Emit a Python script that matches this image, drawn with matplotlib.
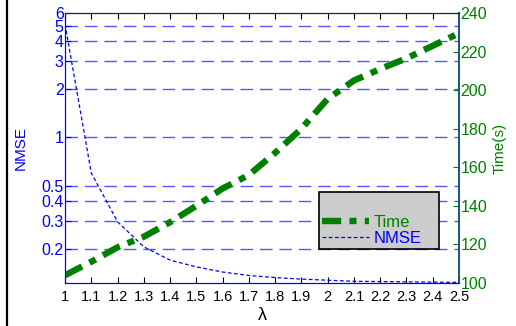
import numpy as np
import matplotlib
matplotlib.use('Agg')
import matplotlib.pyplot as plt
from matplotlib.lines import Line2D

plt.rcParams['font.family'] = ['Liberation Sans', 'DejaVu Sans']

# data
lam = [1.0, 1.1, 1.2, 1.3, 1.4, 1.5, 1.6, 1.7, 1.8, 1.9, 2.0, 2.1, 2.2, 2.3, 2.4, 2.5]
nmse = [5.1, 0.60, 0.297, 0.207, 0.171, 0.155, 0.144, 0.137, 0.133, 0.130,
        0.128, 0.126, 0.1255, 0.125, 0.1245, 0.124]
time_s = [104, 111, 118.5, 124, 131.5, 140, 149, 156, 167.5, 180,
          195.5, 205, 211, 216.5, 223, 229.5]

xticks = [1, 1.1, 1.2, 1.3, 1.4, 1.5, 1.6, 1.7, 1.8, 1.9, 2, 2.1, 2.2, 2.3, 2.4, 2.5]
xticklabels = ['1', '1.1', '1.2', '1.3', '1.4', '1.5', '1.6', '1.7', '1.8', '1.9',
               '2', '2.1', '2.2', '2.3', '2.4', '2.5']
nmse_ticks = [0.2, 0.3, 0.4, 0.5, 1, 2, 3, 4, 5, 6]
nmse_ticklabels = ['0.2', '0.3', '0.4', '0.5', '1', '2', '3', '4', '5', '6']
time_ticks = [100, 120, 140, 160, 180, 200, 220, 240]

fig = plt.figure(figsize=(5.16, 3.26), dpi=100)
ax = fig.add_axes([0.126, 0.132, 0.7635, 0.828])
ax2 = ax.twinx()

blue = '#0000ff'
green = '#008000'
spine_right = '#1f5a7a'

# NMSE (left, log)
ax.set_yscale('log')
ax.set_ylim(0.123, 6)
ax.set_xlim(1, 2.5)
for v in nmse_ticks[:-1]:
    ax.axhline(v, color='#3a3aff', lw=1.0, dashes=(9, 5), alpha=0.85, zorder=0)
l_nmse, = ax.plot(lam, nmse, color=blue, lw=0.9, dashes=(3, 2), label='NMSE')
ax.set_yticks(nmse_ticks)
ax.set_yticklabels(nmse_ticklabels)
ax.yaxis.set_minor_locator(matplotlib.ticker.NullLocator())
ax.tick_params(axis='y', colors=blue, direction='in', length=4, labelsize=11.5, pad=1)
ax.set_xticks(xticks)
ax.set_xticklabels(xticklabels)
ax.tick_params(axis='x', direction='in', length=4, labelsize=10.5, top=True, pad=5)
ax.set_ylabel('NMSE', color=blue, fontsize=11, labelpad=10)
ax.set_xlabel('λ', fontsize=13, labelpad=2)

# Time (right, linear)
ax2.set_ylim(100, 240)
l_time, = ax2.plot(lam, time_s, color=green, lw=4.6, label='Time',
                   solid_capstyle='butt', dash_capstyle='butt')
l_time.set_dashes((3.0, 1.3, 1.1, 1.3))
ax2.set_yticks(time_ticks)
ax2.tick_params(axis='y', colors=green, direction='in', length=4, labelsize=11.5, pad=1)
ax2.set_ylabel('Time(s)', color=green, fontsize=11, labelpad=4)

for a in (ax, ax2):
    a.spines['left'].set_color(blue)
    a.spines['bottom'].set_color(blue)
    a.spines['top'].set_color('#222222')
    a.spines['right'].set_color(spine_right)
    a.spines['right'].set_linewidth(1.4)

leg = ax2.legend([l_time, l_nmse], ['Time', 'NMSE'], loc='lower left',
                 bbox_to_anchor=(0.645, 0.126, 0.304, 0.2), mode='expand',
                 borderaxespad=0, fontsize=12, handlelength=2.8,
                 fancybox=False, framealpha=1, edgecolor='black', facecolor='#cccccc',
                 borderpad=0.2, labelspacing=0.05, handletextpad=0.3,
                 title=' ', title_fontsize=15)
leg.get_frame().set_linewidth(1.2)
for t, c in zip(leg.get_texts(), [green, blue]):
    t.set_color(c)

fig.add_artist(Line2D([0.0135, 0.0135], [0, 1], transform=fig.transFigure,
                      color='black', lw=1.6))

fig.savefig('out.png', dpi=100)
